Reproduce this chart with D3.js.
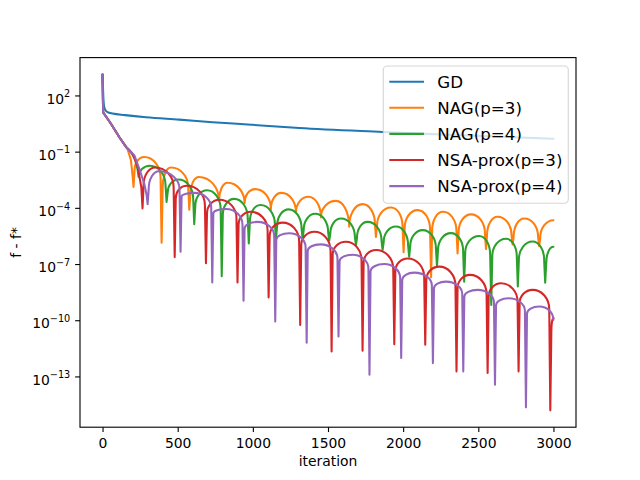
<!DOCTYPE html>
<html>
<head>
<meta charset="utf-8">
<script src="https://cdn.jsdelivr.net/npm/d3@7"></script>
<style>
	html, body { margin: 0; padding: 0; background: #fff; }
	svg { display: block; font-family: 'DejaVu Sans', sans-serif; }
</style>
</head>
<body>
<div id="chart"></div>
<script>
// tick values
const iterTicks = [0, 500, 1000, 1500, 2000, 2500, 3000]
const expTicks = [2, -1, -4, -7, -10, -13]
const seriesNames = ['GD', 'NAG(p=3)', 'NAG(p=4)', 'NSA-prox(p=3)', 'NSA-prox(p=4)']

// every point: [iteration, log10(f - f*)]
const gdData = [[0, 3.12], [6, 1.8], [11, 1.38], [22, 1.18], [33, 1.11], [67, 1.03], [150, 0.95],
	[289, 0.84], [510, 0.71], [732, 0.57], [965, 0.45], [1309, 0.26], [1863, 0.05], [2240, -0.08], [3000, -0.31]]

// shared first descent of the accelerated methods
const startPath = [[0, 3.12], [4, 1.1], [56, 0.49], [111, -0.22], [156, -0.75]]

const nag3Data = [...startPath,
	[166, -0.85], [189, -1.46], [200, -2.3], [206, -2.88], [213, -2.0], [277, -1.29],
	[386, -2.4], [393, -5.86], [400, -2.9], [455, -1.85],
	[570, -2.9], [577, -4.1], [584, -3.3], [641, -2.35],
	[775, -3.62], [832, -2.66],
	[945, -3.75], [1015, -3.0],
	[1120, -4.07], [1190, -3.2],
	[1287, -4.24], [1370, -3.41],
	[1453, -4.51], [1553, -3.63],
	[1641, -5.01], [1730, -3.8],
	[1812, -4.85], [1819, -5.55], [1826, -4.95], [1919, -3.98],
	[1996, -5.0], [2003, -6.37], [2010, -5.1], [2096, -4.12],
	[2179, -5.15], [2186, -7.7], [2193, -5.2], [2265, -4.21],
	[2355, -5.25], [2362, -6.43], [2369, -5.3], [2451, -4.35],
	[2544, -5.35], [2551, -6.2], [2558, -5.45], [2628, -4.48],
	[2721, -5.45], [2728, -5.95], [2735, -5.55], [2806, -4.57],
	[2898, -5.55], [2905, -6.05], [2912, -5.6], [3000, -4.66]]

const nag4Data = [...startPath,
	[180, -0.93], [215, -1.35], [232, -1.9], [240, -2.35], [315, -1.75],
	[419, -2.8], [426, -3.68], [433, -3.2], [505, -2.49],
	[603, -3.5], [610, -4.87], [617, -3.9], [695, -3.06],
	[786, -4.1], [793, -7.65], [800, -4.4], [876, -3.52],
	[966, -4.55], [973, -5.9], [980, -4.75], [1050, -3.85],
	[1147, -4.9], [1154, -5.63], [1161, -5.0], [1238, -4.08],
	[1324, -5.1], [1331, -5.65], [1338, -5.2], [1415, -4.32],
	[1501, -5.3], [1508, -5.76], [1515, -5.4], [1586, -4.57],
	[1679, -5.55], [1686, -5.99], [1693, -5.6], [1763, -4.75],
	[1856, -5.75], [1863, -6.25], [1870, -5.85], [1952, -5.0],
	[2033, -6.0], [2040, -6.61], [2047, -6.05], [2130, -5.19],
	[2218, -6.15], [2225, -7.1], [2232, -6.25], [2318, -5.35],
	[2399, -6.3], [2406, -7.94], [2413, -6.4], [2506, -5.5],
	[2579, -6.5], [2586, -9.18], [2593, -6.6], [2684, -5.65],
	[2756, -6.6], [2763, -8.2], [2770, -6.75], [2861, -5.8],
	[2938, -6.75], [2945, -8.0], [2952, -6.95], [3000, -6.08]]

const nsa3Data = [...startPath,
	[196, -1.07], [232, -1.75], [258, -2.9], [266, -4.03], [273, -2.8], [350, -1.85],
	[473, -2.9], [480, -6.63], [487, -3.5], [560, -2.82],
	[681, -3.85], [688, -6.96], [695, -4.3], [777, -3.57],
	[891, -4.55], [898, -7.98], [905, -4.9], [987, -4.21],
	[1098, -5.2], [1105, -8.78], [1112, -5.5], [1198, -4.79],
	[1308, -5.8], [1315, -10.25], [1322, -6.0], [1409, -5.28],
	[1517, -6.3], [1524, -11.67], [1531, -6.5], [1619, -5.81],
	[1723, -6.8], [1730, -11.63], [1737, -6.95], [1819, -6.25],
	[1934, -7.25], [1941, -11.28], [1948, -7.4], [2030, -6.7],
	[2140, -7.7], [2147, -11.31], [2154, -7.85], [2240, -7.14],
	[2348, -8.15], [2355, -12.73], [2362, -8.3], [2444, -7.58],
	[2555, -8.6], [2562, -12.82], [2569, -8.75], [2651, -8.03],
	[2761, -9.0], [2768, -12.73], [2775, -9.1], [2861, -8.38],
	[2972, -9.4], [2979, -14.81], [2986, -10.6], [3000, -9.89]]

const nsa4Data = [...startPath,
	[211, -1.19], [244, -1.9], [277, -2.7], [293, -3.3], [300, -3.8], [307, -3.0], [375, -2.05],
	[512, -3.0], [519, -6.34], [526, -3.4], [610, -3.2],
	[723, -4.0], [730, -7.99], [737, -4.3], [821, -4.06],
	[931, -4.9], [938, -8.96], [945, -5.1], [1031, -4.75],
	[1142, -5.5], [1149, -10.07], [1156, -5.7], [1242, -5.36],
	[1351, -6.1], [1358, -11.2], [1365, -6.3], [1450, -5.95],
	[1563, -6.7], [1570, -10.87], [1577, -6.85], [1663, -6.5],
	[1769, -7.25], [1776, -12.91], [1783, -7.4], [1874, -7.0],
	[1980, -7.75], [1987, -12.02], [1994, -7.85], [2074, -7.46],
	[2191, -8.15], [2198, -12.29], [2205, -8.3], [2285, -7.94],
	[2393, -8.6], [2400, -12.73], [2407, -8.75], [2495, -8.38],
	[2604, -9.05], [2611, -13.44], [2618, -9.2], [2701, -8.83],
	[2810, -9.5], [2817, -14.65], [2824, -9.65], [2906, -9.27],
	[3000, -9.98]]

const colors = ['#1f77b4', '#ff7f0e', '#2ca02c', '#d62728', '#9467bd']

const width = 640
const height = 480
const margin = { top: 57.6, right: 64, bottom: 52.8, left: 80 }
const tickLen = 4.86
const fontSize = 13.9
const kappa = 0.5523 // quarter-ellipse handle length

const x = d3.scaleLinear()
	.domain([-150, 3150])
	.range([margin.left, width - margin.right])

const y = d3.scaleLog()
	.domain([10 ** -15.71, 10 ** 4.02])
	.range([height - margin.bottom, margin.top])

const svg = d3.select('#chart')
	.append('svg')
	.attr('width', width)
	.attr('height', height)

svg.append('defs')
	.append('clipPath')
	.attr('id', 'plot-clip')
	.append('rect')
	.attr('x', margin.left)
	.attr('y', margin.top)
	.attr('width', width - margin.left - margin.right)
	.attr('height', height - margin.top - margin.bottom)

const smoothLine = d3.line()
	.x(d => x(d[0]))
	.y(d => y(10 ** d[1]))
	.curve(d3.curveMonotoneX)

// round arch into and out of every local maximum, straight legs elsewhere
function archPath(points) {
	const p = points.map(d => [x(d[0]), y(10 ** d[1])])
	const isPeak = i => i > 0 && p[i][1] < p[i - 1][1] && (i === p.length - 1 || p[i][1] < p[i + 1][1])
	const path = d3.path()
	path.moveTo(p[0][0], p[0][1])
	for (let i = 1; i < p.length; i++) {
		const [x0, y0] = p[i - 1]
		const [x1, y1] = p[i]
		if (isPeak(i)) {
			path.bezierCurveTo(x0, y0 + kappa * (y1 - y0), x1 - kappa * (x1 - x0), y1, x1, y1)
		} else if (isPeak(i - 1)) {
			path.bezierCurveTo(x0 + kappa * (x1 - x0), y0, x1, y1 + kappa * (y0 - y1), x1, y1)
		} else {
			path.lineTo(x1, y1)
		}
	}
	return path.toString()
}

const series = [gdData, nag3Data, nag4Data, nsa3Data, nsa4Data]

svg.append('g')
	.attr('clip-path', 'url(#plot-clip)')
	.selectAll('path')
	.data(series)
	.join('path')
	.attr('d', (d, i) => i === 0 ? smoothLine(d) : archPath(d))
	.attr('fill', 'none')
	.attr('stroke', (d, i) => colors[i])
	.attr('stroke-width', 2.08)
	.attr('stroke-linejoin', 'round')
	.attr('stroke-linecap', 'round')

// x axis
svg.append('g')
	.attr('transform', `translate(0,${height - margin.bottom})`)
	.call(d3.axisBottom(x)
		.tickValues(iterTicks)
		.tickFormat(d3.format('d'))
		.tickSize(tickLen)
		.tickPadding(tickLen)
		.tickSizeOuter(0))
	.attr('font-size', fontSize)
	.attr('font-family', "'DejaVu Sans', sans-serif")
	.call(g => g.select('.domain').remove())
	.call(g => g.selectAll('.tick line').attr('stroke', '#000').attr('stroke-width', 1.11))
	.call(g => g.selectAll('.tick text').attr('fill', '#000').attr('dy', '0.82em'))

// y axis, labels as 10^n
svg.append('g')
	.attr('transform', `translate(${margin.left},0)`)
	.call(d3.axisLeft(y)
		.tickValues(expTicks.map(e => 10 ** e))
		.tickFormat(() => '')
		.tickSize(tickLen)
		.tickPadding(tickLen)
		.tickSizeOuter(0))
	.attr('font-size', fontSize)
	.attr('font-family', "'DejaVu Sans', sans-serif")
	.call(g => g.select('.domain').remove())
	.call(g => g.selectAll('.tick line').attr('stroke', '#000').attr('stroke-width', 1.11))
	.call(g => g.selectAll('.tick text')
		.attr('fill', '#000')
		.attr('dy', null)
		.attr('y', 7.7)
		.each(function (d) {
			const e = Math.round(Math.log10(d))
			const t = d3.select(this)
			t.append('tspan').text('10')
			t.append('tspan')
				.attr('dy', -6.5)
				.attr('font-size', 9.7)
				.text(String(e).replace('-', '\u2212'))
		}))

// spines
svg.append('rect')
	.attr('x', margin.left)
	.attr('y', margin.top)
	.attr('width', width - margin.left - margin.right)
	.attr('height', height - margin.top - margin.bottom)
	.attr('fill', 'none')
	.attr('stroke', '#000')
	.attr('stroke-width', 1.11)

// axis labels
svg.append('text')
	.attr('x', (margin.left + width - margin.right) / 2)
	.attr('y', 466)
	.attr('text-anchor', 'middle')
	.attr('font-size', fontSize)
	.text('iteration')

svg.append('text')
	.attr('transform', `translate(20.5,${(margin.top + height - margin.bottom) / 2}) rotate(-90)`)
	.attr('text-anchor', 'middle')
	.attr('font-size', fontSize)
	.text('f - f*')

// legend
const legend = svg.append('g').attr('transform', 'translate(383.3,66)')

legend.append('rect')
	.attr('width', 185)
	.attr('height', 137.3)
	.attr('rx', 4)
	.attr('fill', '#fff')
	.attr('fill-opacity', 0.8)
	.attr('stroke', '#ccc')
	.attr('stroke-opacity', 0.8)
	.attr('stroke-width', 1.11)

const rows = legend.selectAll('g.row')
	.data(seriesNames)
	.join('g')
	.attr('class', 'row')
	.attr('transform', (d, i) => `translate(0,${15.7 + i * 26.1})`)

rows.append('line')
	.attr('x1', 6)
	.attr('x2', 40.7)
	.attr('stroke', (d, i) => colors[i])
	.attr('stroke-width', 2.08)

rows.append('text')
	.attr('x', 54)
	.attr('y', 6.1)
	.attr('font-size', 16.67)
	.text(d => d)
</script>
</body>
</html>
